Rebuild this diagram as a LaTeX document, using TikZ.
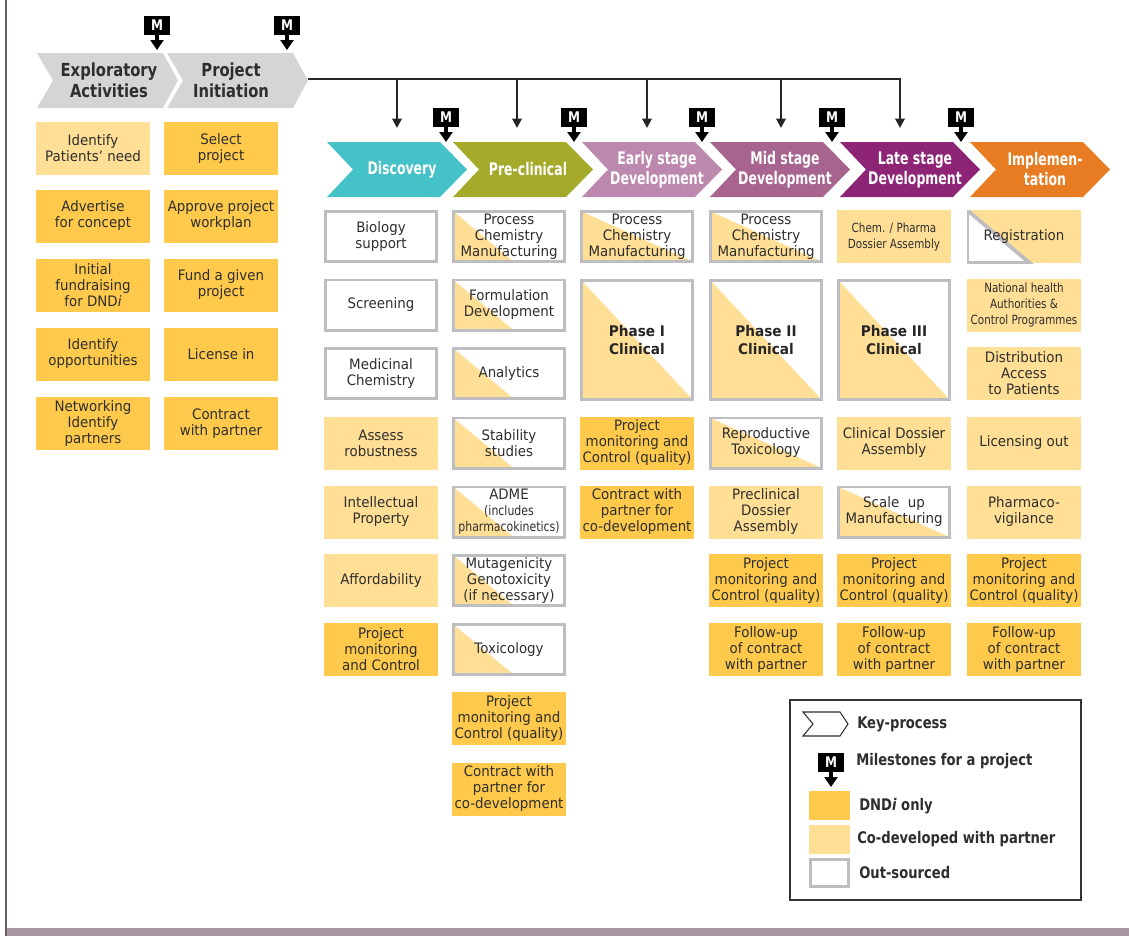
\documentclass[tikz,border=0pt]{standalone}
\usepackage{fontspec}
\setmainfont{DejaVu Sans}[FakeStretch=0.93]
\newfontfamily\headfont{DejaVu Sans}[FakeStretch=0.82]
\newfontfamily\stagefont{DejaVu Sans}[FakeStretch=0.72]
\newfontfamily\narrowfont{DejaVu Sans}[FakeStretch=0.82]
\usetikzlibrary {arrows.meta, calc}

\definecolor{dndi}{HTML}{FFCA4B}
\definecolor{codev}{HTML}{FFDE95}
\definecolor{outline}{HTML}{BEBEC2}
\definecolor{ink}{HTML}{2E2E2E}
\definecolor{headgray}{HTML}{D5D5D6}
\definecolor{discov}{HTML}{45C1C8}
\definecolor{precl}{HTML}{A6AA2B}
\definecolor{early}{HTML}{BD88AE}
\definecolor{midst}{HTML}{A6648F}
\definecolor{latest}{HTML}{8E2476}
\definecolor{impl}{HTML}{E87C22}
\definecolor{frame}{HTML}{6B5B66}
\definecolor{band}{HTML}{A797A1}

% chevron of a stage: name, left x, colour, text
\newcommand\stagechev[4]{%
  \fill[#3] (#2,142) -- ++(113,0) -- ++(27,27.5) -- ++(-27,27.5)
    -- ++(-113,0) -- ++(26,-27.5) -- cycle;
  \node[stagetext] (#1) at (#2+75,169.5) {#4};}
% grey chevron of the first two activities
\newcommand\headchev[4]{%
  \fill[headgray] (#2,53) -- ++(126,0) -- ++(15,27.5) -- ++(-15,27.5)
    -- ++(-126,0) -- ++(16,-27.5) -- cycle;
  \node[headtext] (#1) at (#2+#3,80.5) {#4};}
% milestone: name, x, y of the arrow tip
\newcommand\milestone[3]{%
  \node[msquare] (#1) at (#2,#3-24.5) {M};
  \coordinate (#1-tip) at (#2,#3);
  \draw[mstem] (#1.south) -- (#1-tip);}

\begin{document}
\begin{tikzpicture}[x=0.75pt, y=-0.75pt,
  box/.style={minimum width=85.5pt, minimum height=39.75pt, inner sep=0pt,
    align=center, text=ink, font=\fontsize{10.8}{12}\selectfont},
  dndibox/.style={box, fill=dndi},
  codevbox/.style={box, fill=codev},
  outbox/.style={box, fill=white, draw=outline, line width=2.2pt,
    minimum width=83.3pt, minimum height=37.55pt},
  tallbox/.style={minimum height=89.3pt,
    font=\bfseries\fontsize{11}{14}\selectfont, text=black!85},
  halfbox/.style={outbox, path picture={\fill[codev]
    (path picture bounding box.north west) -- (path picture bounding box.south west)
    -- ($(path picture bounding box.south west)!0.54!(path picture bounding box.south east)$)
    -- cycle;}},
  fullbox/.style={outbox, path picture={\fill[codev]
    (path picture bounding box.north west) -- (path picture bounding box.south west)
    -- (path picture bounding box.south east) -- cycle;}},
  regbox/.style={codevbox, path picture={\filldraw[fill=white, draw=outline, line width=2.8pt]
    (path picture bounding box.north west) -- (path picture bounding box.south west)
    -- ($(path picture bounding box.south west)!0.55!(path picture bounding box.south east)$)
    -- cycle;}},
  narrow/.style={font=\narrowfont\fontsize{9.5}{12}\selectfont},
  stagetext/.style={text=white, inner sep=0pt, align=center,
    font=\stagefont\bfseries\fontsize{13}{15}\selectfont},
  headtext/.style={text=ink, inner sep=0pt, align=center,
    font=\headfont\bfseries\fontsize{13.5}{15.75}\selectfont},
  msquare/.style={fill=black, text=white, minimum width=19.5pt,
    minimum height=14.25pt, inner sep=0pt,
    font=\headfont\bfseries\fontsize{11}{12}\selectfont},
  mstem/.style={draw=black, line width=3pt, -{Triangle[width=9.75pt,length=7.5pt]}},
  trunk/.style={draw=black!85, line width=1.5pt},
  drop/.style={trunk, -{Triangle[width=7pt,length=7pt]}},
  legtext/.style={text=ink, inner sep=0pt, anchor=west,
    font=\headfont\bfseries\fontsize{12}{14}\selectfont}]

\useasboundingbox (0,0) rectangle (1129,936);
\draw[frame, line width=1.5pt] (6,0) -- (6,936);
\fill[band] (7,928) rectangle (1129,936);

% first two activities
\headchev{explo}{37}{72}{Exploratory\\Activities}
\headchev{pinit}{167}{64}{Project\\Initiation}
\milestone{m1}{157}{50}
\milestone{m2}{287}{50}

% stages
\stagechev{disc}{327}{discov}{Discovery}
\stagechev{precl}{453}{precl}{Pre-clinical}
\stagechev{early}{582}{early}{Early stage\\Development}
\stagechev{mid}{710}{midst}{Mid stage\\Development}
\stagechev{late}{840}{latest}{Late stage\\Development}
\stagechev{impl}{970}{impl}{Implemen-\\tation}
\milestone{m3}{446}{142}
\milestone{m4}{574}{142}
\milestone{m5}{702}{142}
\milestone{m6}{832}{142}
\milestone{m7}{961}{142}

% arrows from project initiation to the stages
\coordinate (pinit-tip) at (308,79);
\coordinate (drop-disc) at (397,128);
\coordinate (drop-precl) at (517,128);
\coordinate (drop-early) at (647,128);
\coordinate (drop-mid) at (781,128);
\coordinate (drop-late) at (900,128);
\draw[drop] (pinit-tip) -| (drop-late);
\foreach \d in {disc, precl, early, mid}
  \draw[drop] (pinit-tip -| drop-\d) -- (drop-\d);

% exploratory activities
\node[codevbox] (ea1) at (93,148.5) {Identify\\Patients' need};
\node[dndibox] (ea2) at (93,216) {Advertise\\for concept};
\node[dndibox] (ea3) at (93,285) {Initial\\fundraising\\for DND\textit{i}};
\node[dndibox] (ea4) at (93,354) {Identify\\opportunities};
\node[dndibox] (ea5) at (93,423.5) {Networking\\Identify\\partners};

% project initiation
\node[dndibox] (pi1) at (221,148.5) {Select\\project};
\node[dndibox] (pi2) at (221,216) {Approve project\\workplan};
\node[dndibox] (pi3) at (221,285) {Fund a given\\project};
\node[dndibox] (pi4) at (221,354) {License in};
\node[dndibox] (pi5) at (221,423.5) {Contract\\with partner};

% discovery
\node[outbox] (disc1) at (381,236.5) {Biology\\support};
\node[outbox] (disc2) at (381,305) {Screening};
\node[outbox] (disc3) at (381,373.5) {Medicinal\\Chemistry};
\node[codevbox] (disc4) at (381,443) {Assess\\robustness};
\node[codevbox] (disc5) at (381,512) {Intellectual\\Property};
\node[codevbox] (disc6) at (381,580.5) {Affordability};
\node[dndibox] (disc7) at (381,649.5) {Project\\monitoring\\and Control};

% pre-clinical
\node[halfbox] (pre1) at (509,236.5) {Process\\Chemistry\\Manufacturing};
\node[halfbox] (pre2) at (509,305) {Formulation\\Development};
\node[halfbox] (pre3) at (509,373.5) {Analytics};
\node[halfbox] (pre4) at (509,443) {Stability\\studies};
\node[halfbox] (pre5) at (509,512) {ADME\\{\narrowfont\fontsize{10}{12}\selectfont (includes}\\{\narrowfont\fontsize{10}{12}\selectfont pharmacokinetics)}};
\node[halfbox] (pre6) at (509,580.5) {Mutagenicity\\Genotoxicity\\(if necessary)};
\node[halfbox] (pre7) at (509,649.5) {Toxicology};
\node[dndibox] (pre8) at (509,718.5) {Project\\monitoring and\\Control (quality)};
\node[dndibox] (pre9) at (509,789) {Contract with\\partner for\\co-development};

% early stage development
\node[fullbox] (early1) at (637,236.5) {Process\\Chemistry\\Manufacturing};
\node[fullbox, tallbox] (early2) at (637,340) {Phase I\\Clinical};
\node[dndibox] (early3) at (637,443) {Project\\monitoring and\\Control (quality)};
\node[dndibox] (early4) at (637,512) {Contract with\\partner for\\co-development};

% mid stage development
\node[fullbox] (mid1) at (766,236.5) {Process\\Chemistry\\Manufacturing};
\node[fullbox, tallbox] (mid2) at (766,340) {Phase II\\Clinical};
\node[fullbox] (mid3) at (766,443) {Reproductive\\Toxicology};
\node[codevbox] (mid4) at (766,512) {Preclinical\\Dossier\\Assembly};
\node[dndibox] (mid5) at (766,580.5) {Project\\monitoring and\\Control (quality)};
\node[dndibox] (mid6) at (766,649.5) {Follow-up\\of contract\\with partner};

% late stage development
\node[codevbox, narrow] (late1) at (894,236.5) {Chem. / Pharma\\Dossier Assembly};
\node[fullbox, tallbox] (late2) at (894,340) {Phase III\\Clinical};
\node[codevbox] (late3) at (894,443) {Clinical Dossier\\Assembly};
\node[fullbox] (late4) at (894,512) {Scale~ up\\Manufacturing};
\node[dndibox] (late5) at (894,580.5) {Project\\monitoring and\\Control (quality)};
\node[dndibox] (late6) at (894,649.5) {Follow-up\\of contract\\with partner};

% implementation
\node[regbox] (impl1) at (1024,236.5) {Registration};
\node[codevbox, narrow] (impl2) at (1024,305) {National health\\Authorities \&\\Control Programmes};
\node[codevbox] (impl3) at (1024,373.5) {Distribution\\Access\\to Patients};
\node[codevbox] (impl4) at (1024,443) {Licensing out};
\node[codevbox] (impl5) at (1024,512) {Pharmaco-\\vigilance};
\node[dndibox] (impl6) at (1024,580.5) {Project\\monitoring and\\Control (quality)};
\node[dndibox] (impl7) at (1024,649.5) {Follow-up\\of contract\\with partner};

% legend
\draw[black!80, line width=1.2pt] (790,700) rectangle (1081,900);
\draw[ink, line width=0.8pt] (803,712) -- ++(37,0) -- ++(8,12) -- ++(-8,12)
  -- ++(-37,0) -- ++(10,-12) -- cycle;
\node[legtext] (leg-key) at (857,724) {Key-process};
\milestone{leg-m}{831}{787}
\node[legtext] (leg-mile) at (856,761) {Milestones for a project};
\node[fill=dndi, minimum width=30.75pt, minimum height=21.75pt, inner sep=0pt] (leg-dndi) at (829.5,805.5) {};
\node[legtext] (leg-dndi-t) at (859,806) {DND\textit{i} only};
\node[fill=codev, minimum width=30.75pt, minimum height=21.75pt, inner sep=0pt] (leg-codev) at (829.5,839.5) {};
\node[legtext] (leg-codev-t) at (857,839) {Co-developed with partner};
\node[draw=outline, line width=2.2pt, minimum width=28.5pt, minimum height=20.25pt, inner sep=0pt] (leg-out) at (829.5,873) {};
\node[legtext] (leg-out-t) at (859,873) {Out-sourced};
\end{tikzpicture}
\end{document}
